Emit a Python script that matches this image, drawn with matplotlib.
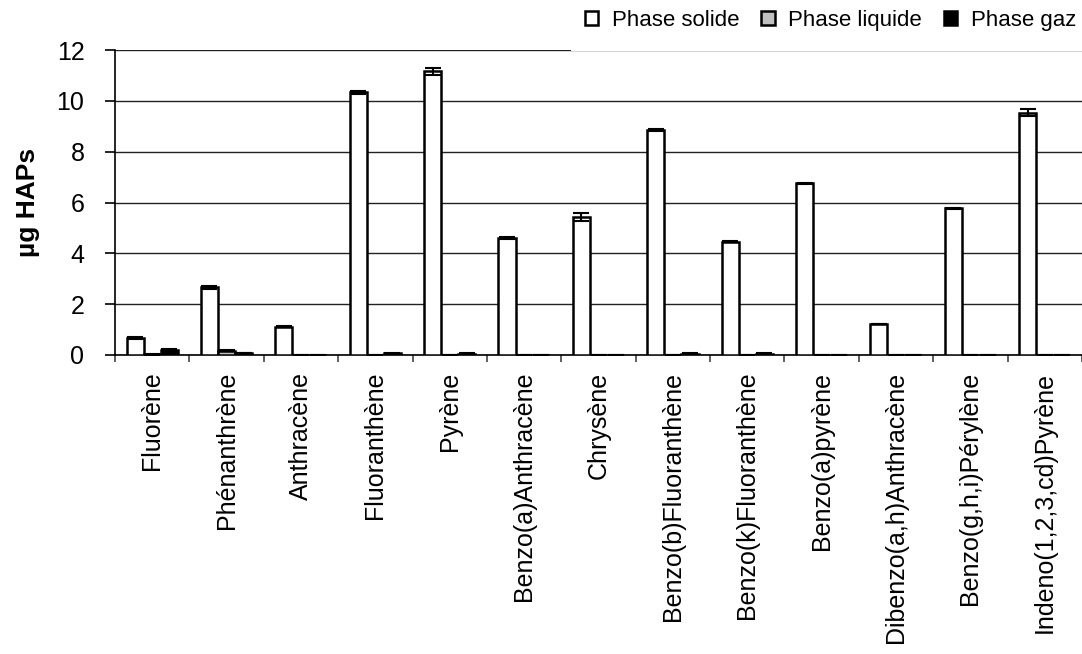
import numpy as np
import matplotlib.pyplot as plt
from matplotlib.patches import Rectangle

plt.rcParams['font.family'] = ['Liberation Sans', 'DejaVu Sans']

hap_names = ['Fluorène', 'Phénanthrène', 'Anthracène', 'Fluoranthène', 'Pyrène',
             'Benzo(a)Anthracène', 'Chrysène', 'Benzo(b)Fluoranthène',
             'Benzo(k)Fluoranthène', 'Benzo(a)pyrène', 'Dibenzo(a,h)Anthracène',
             'Benzo(g,h,i)Pérylène', 'Indeno(1,2,3,cd)Pyrène']

solide = [0.68, 2.66, 1.11, 10.34, 11.16, 4.59, 5.42, 8.86, 4.46, 6.76, 1.22, 5.77, 9.54]
solide_err = [0.04, 0.05, 0.02, 0.06, 0.15, 0.04, 0.16, 0.04, 0.02, 0.02, 0.01, 0.02, 0.15]
liquide = [0.02, 0.17, 0.0, 0.0, 0.0, 0.0, 0.0, 0.0, 0.0, 0.0, 0.0, 0.0, 0.0]
liquide_err = [0.01, 0.03, 0, 0, 0, 0, 0, 0, 0, 0, 0, 0, 0]
gaz = [0.2, 0.07, 0.0, 0.06, 0.05, 0.0, 0.0, 0.05, 0.05, 0.0, 0.0, 0.0, 0.0]
gaz_err = [0.02, 0.01, 0, 0.01, 0.01, 0, 0, 0.01, 0.01, 0, 0, 0, 0]

fig = plt.figure(figsize=(10.82, 6.54), dpi=100)
ax = fig.add_axes([0.1063, 0.4572, 0.8937, 0.4663])

x = np.arange(len(hap_names))
w = 0.23
err_kw = dict(ecolor='black', elinewidth=1.5, capsize=6, capthick=1.5)
b1 = ax.bar(x - w, solide, w, yerr=solide_err, color='white', edgecolor='black',
            linewidth=1.8, error_kw=err_kw, label='Phase solide', zorder=3)
b2 = ax.bar(x, liquide, w, yerr=liquide_err, color='#c0c0c0', edgecolor='black',
            linewidth=1.8, error_kw=err_kw, label='Phase liquide', zorder=3)
b3 = ax.bar(x + w, gaz, w, yerr=gaz_err, color='black', edgecolor='black',
            linewidth=1.8, error_kw=err_kw, label='Phase gaz', zorder=3)

ax.set_ylim(0, 12)
ax.set_yticks(np.arange(0, 13, 2))
ax.set_xlim(-0.5, -0.5 + 967 / 74.8)
ax.yaxis.grid(True, color='#222222', linewidth=1.0, zorder=0)
ax.set_axisbelow(True)

for side in ['top', 'right']:
    ax.spines[side].set_visible(False)
for side in ['left', 'bottom']:
    ax.spines[side].set_color('black')
    ax.spines[side].set_linewidth(1.2)

ax.set_xticks(x)
ax.set_xticklabels(hap_names, rotation=90, fontsize=18, va='top')
ax.set_xticks(np.arange(-0.5, len(hap_names) + 0.5, 1), minor=True)
ax.tick_params(axis='x', which='major', length=0, pad=12)
ax.tick_params(axis='x', which='minor', length=5, width=1.2, color='#444444')
ax.tick_params(axis='y', length=7, width=1.2, pad=15, labelsize=18)

ax.set_ylabel('µg HAPs', fontsize=19, fontweight='bold', labelpad=12)

# white band behind the legend hides the top grid line on the right
fig.patches.append(Rectangle((0.528, 0.922), 0.472, 0.078, transform=fig.transFigure,
                             facecolor='white', edgecolor='none', zorder=4))
fig.legend(handles=[b1, b2, b3], loc='upper right', bbox_to_anchor=(1.013, 1.015),
           ncol=3, frameon=False, fontsize=16, handlelength=0.6, handleheight=0.6,
           handletextpad=0.6, columnspacing=1.0)

fig.savefig('out.png', dpi=100)
